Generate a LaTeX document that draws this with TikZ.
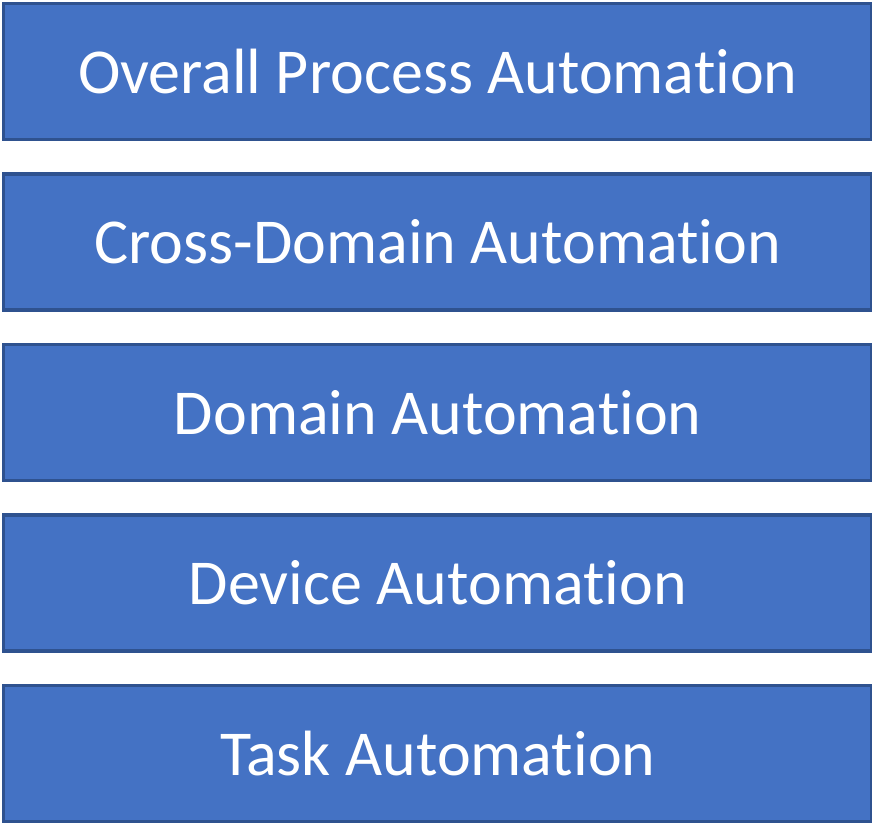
\documentclass[tikz,border=0pt]{standalone}
\usepackage{fontspec}
\setmainfont[Ligatures=NoCommon]{Carlito}
\definecolor{boxfill}{HTML}{4472C4}
\definecolor{boxline}{HTML}{2F528F}
\begin{document}
\begin{tikzpicture}[x=1pt,y=-1pt,
  layer/.style={draw=boxline, fill=boxfill, line width=3.5pt, minimum width=868.5pt, minimum height=136pt, inner sep=0pt, text=white, font=\fontsize{64}{77}\selectfont, anchor=north west}]
\useasboundingbox (0,0) rectangle (872,830);
\node[layer] (l1) at (1.75,1.75) {Overall Process Automation};
\node[layer] (l2) at (1.75,172.25) {Cross-Domain Automation};
\node[layer] (l3) at (1.75,342.75) {Domain Automation};
\node[layer] (l4) at (1.75,513.25) {Device Automation};
\node[layer] (l5) at (1.75,683.75) {Task Automation};
\end{tikzpicture}
\end{document}
